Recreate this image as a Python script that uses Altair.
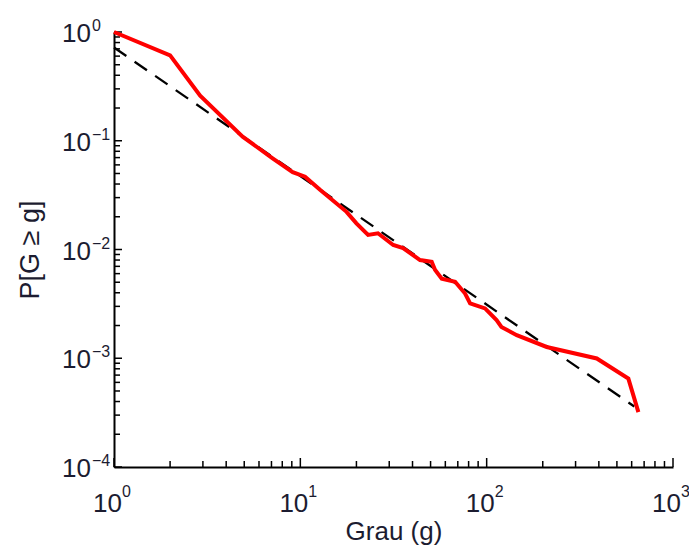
import altair as alt
import pandas as pd

# Empirical complementary CDF (red)
grau = [1, 2, 2.9, 4.9, 7.1, 9.1, 10.6, 12.8, 17.7, 20, 23.1, 26.1, 31.5, 35.6, 43.9,
        50.7, 52.8, 57.4, 67.7, 76.6, 81.5, 98, 113, 120, 145, 210, 390, 576, 652]
prob = [1.0, 0.61, 0.26, 0.109, 0.069, 0.0515, 0.0467, 0.0352, 0.0222, 0.0174, 0.0136,
        0.0141, 0.011, 0.0103, 0.008, 0.0077, 0.0065, 0.0054, 0.00505, 0.00394, 0.00319,
        0.00287, 0.00224, 0.00194, 0.00163, 0.00127, 0.000995, 0.00065, 0.00032]

# Power-law fit (dashed)
fit_g = [1, 620]
fit_p = [0.72, 0.00036]

# Ticks and tick labels
x_major = [1, 10, 100, 1000]
x_exp = ["0", "1", "2", "3"]
x_minor = [2, 3, 4, 5, 6, 7, 8, 9, 20, 30, 40, 50, 60, 70, 80, 90,
           200, 300, 400, 500, 600, 700, 800, 900]
y_major = [1, 1e-1, 1e-2, 1e-3, 1e-4]
y_exp = ["0", "−1", "−2", "−3", "−4"]
y_minor = [m * 10.0 ** e for e in [-4, -3, -2, -1] for m in range(2, 10)]

W, H = 559, 435
FONT = "Liberation Sans"
TXT = "#1c1c30"

xscale = alt.Scale(type="log", domain=[1, 1000])
yscale = alt.Scale(type="log", domain=[1e-4, 1])

xaxis = alt.Axis(values=x_major, labels=False, title="Grau (g)", grid=False,
                 ticks=False, tickSize=0, domainColor="black", domainWidth=2,
                 titleFontSize=26, titleFont=FONT, titleFontWeight="normal",
                 titleColor=TXT, titlePadding=51)
yaxis = alt.Axis(values=y_major, labels=False, title="P[G ≥ g]", grid=False,
                 ticks=False, tickSize=0, domainColor="black", domainWidth=2,
                 titleFontSize=27, titleFont=FONT, titleFontWeight="normal",
                 titleColor=TXT, titlePadding=70)

df = pd.DataFrame({"g": grau, "p": prob})
dfit = pd.DataFrame({"g": fit_g, "p": fit_p})

X = alt.X("g:Q", scale=xscale, axis=xaxis)
Y = alt.Y("p:Q", scale=yscale, axis=yaxis)

fit = alt.Chart(dfit).mark_line(color="black", strokeWidth=2.3, strokeDash=[15, 10],
                                clip=False).encode(x=X, y=Y)
emp = alt.Chart(df).mark_line(color="#ff0000", strokeWidth=4, clip=False).encode(x=X, y=Y)

xt_major = alt.Chart(pd.DataFrame({"g": x_major})).mark_rule(color="black", strokeWidth=1.5).encode(
    x=X, y=alt.value(H), y2=alt.value(H - 9))
xt_minor = alt.Chart(pd.DataFrame({"g": x_minor})).mark_rule(color="black", strokeWidth=1.5).encode(
    x=X, y=alt.value(H), y2=alt.value(H - 6))
yt_major = alt.Chart(pd.DataFrame({"p": y_major})).mark_rule(color="black", strokeWidth=1.5).encode(
    y=Y, x=alt.value(0), x2=alt.value(8))
yt_minor = alt.Chart(pd.DataFrame({"p": y_minor})).mark_rule(color="black", strokeWidth=1.5).encode(
    y=Y, x=alt.value(0), x2=alt.value(6))

xlab_df = pd.DataFrame({"g": x_major, "e": x_exp})
ylab_df = pd.DataFrame({"p": y_major, "e": y_exp})

xl_base = alt.Chart(xlab_df).mark_text(text="10", align="right", baseline="alphabetic", dx=8,
                                       fontSize=26, font=FONT, color=TXT).encode(
    x=X, y=alt.value(H + 45))
xl_exp = alt.Chart(xlab_df).mark_text(align="left", baseline="alphabetic", dx=8,
                                      fontSize=16, font=FONT, color=TXT).encode(
    x=X, y=alt.value(H + 30), text="e:N")
yl_base = alt.Chart(ylab_df).mark_text(text="10", align="right", baseline="alphabetic", dy=10,
                                       fontSize=26, font=FONT, color=TXT).encode(
    y=Y, x=alt.value(-23))
yl_exp = alt.Chart(ylab_df).mark_text(align="left", baseline="alphabetic", dy=-1,
                                      fontSize=16, font=FONT, color=TXT).encode(
    y=Y, x=alt.value(-22), text="e:N")

chart = alt.layer(xt_minor, xt_major, yt_minor, yt_major, fit, emp,
                  xl_base, xl_exp, yl_base, yl_exp).properties(
    width=W, height=H,
    autosize=alt.AutoSizeParams(type="none"),
    padding={"left": 106, "top": 24, "right": 16, "bottom": 80},
    background="white",
).configure_view(stroke=None)

chart.save("out.html", embed_options={"renderer": "svg", "actions": False})
